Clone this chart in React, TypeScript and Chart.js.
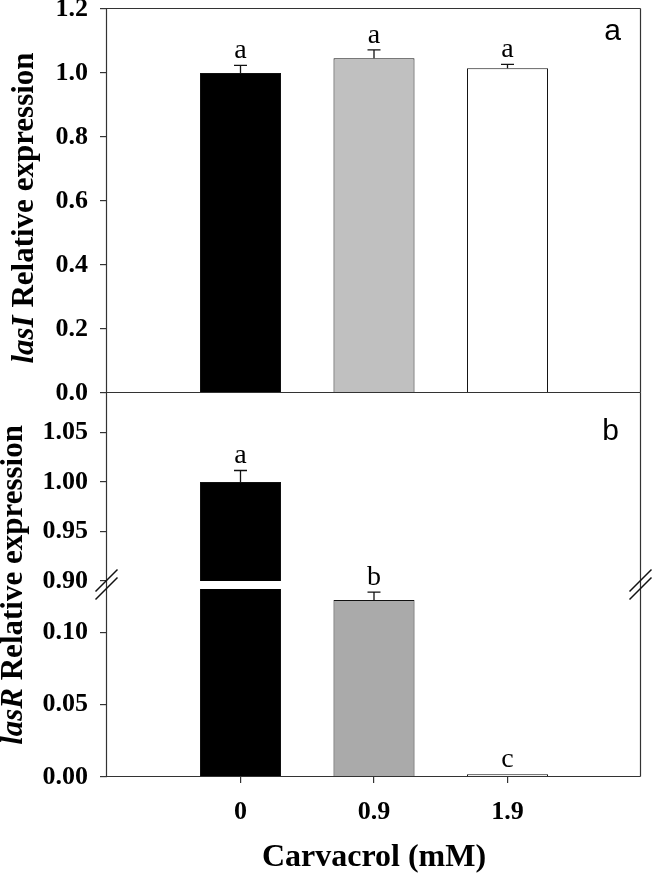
import React, { useEffect, useRef } from "react";
import { Chart, registerables } from "chart.js";

Chart.register(...registerables);

const W = 653;
const H = 874;
const SERIF = "'Liberation Serif', 'Times New Roman', serif";
const SANS = "'Liberation Sans', Arial, sans-serif";

// ---- data ----
const categories = ["0", "0.9", "1.9"];
const categoryPositions = [1, 2, 3];

const lasIValues = [1.0, 1.046, 1.015];
const lasIErrors = [0.024, 0.026, 0.012];
const lasILetters = ["a", "a", "a"];
const lasIColors = ["#000000", "#c0c0c0", "#ffffff"];
const lasITicks = [0, 0.2, 0.4, 0.6, 0.8, 1.0, 1.2];
const lasIRange = [0, 1.2];

const lasRValues = [1.0, 0.1224, 0.0019];
const lasRErrors = [0.0117, 0.0054, 0.0];
const lasRLetters = ["a", "b", "c"];
const lasRColors = ["#000000", "#aaaaaa", "#ffffff"];
const lasRUpperTicks = [0.9, 0.95, 1.0, 1.05];
const lasRUpperRange = [0.9, 1.09];
const lasRLowerTicks = [0, 0.05, 0.1];
const lasRLowerRange = [0, 0.13];

type PanelSpec = {
  values: number[];
  errors: number[];
  letters: string[];
  colors: string[];
  range: number[];
  ticks: number[];
  decimals: number;
  padTop: number;
  padBottom: number;
  showX: boolean;
  frameTop?: boolean;
  frameBottom?: boolean;
  breakAbove?: boolean;
  panelLabel?: { text: string; dx: number; dy: number };
  yTitle?: { italic: string; rest: string; x: number; cy: number };
};

const GAP = 8;

function buildChart(canvas: HTMLCanvasElement, p: PanelSpec) {
  const errorPlugin = {
    id: "errorLetters",
    afterDatasetsDraw(chart: any) {
      const ctx = chart.ctx;
      const ys = chart.scales.y;
      const meta = chart.getDatasetMeta(0);
      ctx.save();
      meta.data.forEach((bar: any, i: number) => {
        const v = p.values[i];
        if (v < ys.min || v > ys.max) return;
        const yTop = ys.getPixelForValue(v);
        const yErr = ys.getPixelForValue(v + p.errors[i]);
        const x = bar.x;
        if (p.errors[i] > 0) {
          ctx.strokeStyle = "#111";
          ctx.lineWidth = 1.3;
          ctx.beginPath();
          ctx.moveTo(x, yTop);
          ctx.lineTo(x, yErr);
          ctx.moveTo(x - 6.5, yErr);
          ctx.lineTo(x + 6.5, yErr);
          ctx.stroke();
        }
        ctx.fillStyle = "#000";
        ctx.font = `28px ${SERIF}`;
        ctx.textAlign = "center";
        ctx.textBaseline = "alphabetic";
        ctx.fillText(p.letters[i], x, yErr - 7);
      });
      ctx.restore();
    },
  };

  const framePlugin = {
    id: "frameText",
    afterDraw(chart: any) {
      const ctx = chart.ctx;
      const { left, right, top, bottom } = chart.chartArea;
      const L = Math.round(left) - 0.5;
      const R = Math.round(right) - 0.5;
      const T = Math.round(top) - 0.5;
      const B = Math.round(bottom) - 0.5;
      ctx.save();
      ctx.strokeStyle = "#333";
      ctx.lineWidth = 1.2;
      ctx.beginPath();
      ctx.moveTo(L, T);
      ctx.lineTo(L, B);
      ctx.moveTo(R, T);
      ctx.lineTo(R, B);
      if (p.frameTop) {
        ctx.moveTo(L, T);
        ctx.lineTo(R, T);
      }
      if (p.frameBottom) {
        ctx.moveTo(L, B);
        ctx.lineTo(R, B);
      }
      if (p.breakAbove) {
        ctx.moveTo(L, T - GAP);
        ctx.lineTo(L, T);
        ctx.moveTo(R, T - GAP);
        ctx.lineTo(R, T);
      }
      ctx.stroke();
      if (p.breakAbove) {
        ctx.strokeStyle = "#111";
        ctx.lineWidth = 1.5;
        ctx.beginPath();
        [L, R].forEach((x) => {
          [T, T - GAP].forEach((y) => {
            ctx.moveTo(x - 11, y + 11);
            ctx.lineTo(x + 11, y - 11);
          });
        });
        ctx.stroke();
      }
      if (p.panelLabel) {
        ctx.fillStyle = "#000";
        ctx.font = `30px ${SANS}`;
        ctx.textAlign = "right";
        ctx.textBaseline = "alphabetic";
        ctx.fillText(p.panelLabel.text, right - p.panelLabel.dx, top + p.panelLabel.dy);
      }
      if (p.yTitle) {
        const t = p.yTitle;
        const fI = `italic bold 31px ${SERIF}`;
        const fB = `bold 31px ${SERIF}`;
        ctx.translate(t.x, t.cy);
        ctx.rotate(-Math.PI / 2);
        ctx.font = fI;
        const w1 = ctx.measureText(t.italic).width;
        ctx.font = fB;
        const w2 = ctx.measureText(t.rest).width;
        const sx = -(w1 + w2) / 2;
        ctx.fillStyle = "#000";
        ctx.textAlign = "left";
        ctx.textBaseline = "alphabetic";
        ctx.font = fI;
        ctx.fillText(t.italic, sx, 0);
        ctx.font = fB;
        ctx.fillText(t.rest, sx + w1, 0);
      }
      ctx.restore();
    },
  };

  return new Chart(canvas, {
    type: "bar",
    data: {
      datasets: [
        {
          data: p.values.map((v, i) => ({ x: categoryPositions[i], y: v })),
          backgroundColor: p.colors,
          borderColor: "#111",
          borderWidth: 1,
          barPercentage: 0.607,
          categoryPercentage: 1,
          clip: 0,
        } as any,
      ],
    },
    options: {
      animation: false,
      responsive: false,
      maintainAspectRatio: false,
      layout: { padding: { left: 0, right: W - 641, top: p.padTop, bottom: p.padBottom } },
      plugins: { legend: { display: false }, tooltip: { enabled: false } },
      scales: {
        x: {
          type: "linear",
          display: p.showX,
          min: 0,
          max: 4,
          bounds: "data",
          offset: false,
          afterBuildTicks: (s: any) => {
            s.ticks = categoryPositions.map((v) => ({ value: v }));
          },
          afterFit: (s: any) => {
            if (p.showX) s.height = 97;
            s.paddingLeft = 0;
            s.paddingRight = 0;
          },
          ticks: {
            autoSkip: false,
            maxRotation: 0,
            padding: 14,
            color: "#000",
            font: { family: SERIF, size: 26, weight: "bold" },
            callback: (v: any) => {
              const idx = categoryPositions.indexOf(Number(v));
              return idx >= 0 ? categories[idx] : "";
            },
          },
          grid: {
            offset: false,
            drawOnChartArea: false,
            drawTicks: true,
            tickLength: 6,
            color: "#333",
            lineWidth: 1.2,
          },
          border: { display: false },
          title: {
            display: true,
            text: "Carvacrol (mM)",
            color: "#000",
            font: { family: SERIF, size: 32, weight: "bold", lineHeight: 1 },
            padding: { top: 0, bottom: 0 },
          },
        } as any,
        y: {
          type: "linear",
          min: p.range[0],
          max: p.range[1],
          bounds: "data",
          afterBuildTicks: (s: any) => {
            s.ticks = p.ticks.map((v) => ({ value: v }));
          },
          afterFit: (s: any) => {
            s.width = 107;
            s.paddingTop = 0;
            s.paddingBottom = 0;
          },
          ticks: {
            padding: 12,
            color: "#000",
            font: { family: SERIF, size: 26, weight: "bold" },
            callback: (v: any) => Number(v).toFixed(p.decimals),
          },
          grid: { drawOnChartArea: false, drawTicks: true, tickLength: 7, color: "#333", lineWidth: 1.2 },
          border: { display: false },
        } as any,
      },
    },
    plugins: [errorPlugin, framePlugin],
  });
}

const panelA: PanelSpec = {
  values: lasIValues,
  errors: lasIErrors,
  letters: lasILetters,
  colors: lasIColors,
  range: lasIRange,
  ticks: lasITicks,
  decimals: 1,
  padTop: 9,
  padBottom: H - 393,
  showX: false,
  frameTop: true,
  frameBottom: true,
  panelLabel: { text: "a", dx: 20, dy: 31 },
  yTitle: { italic: "lasI", rest: " Relative expression", x: 33, cy: 208 },
};

const panelBUpper: PanelSpec = {
  values: lasRValues,
  errors: lasRErrors,
  letters: lasRLetters,
  colors: lasRColors,
  range: lasRUpperRange,
  ticks: lasRUpperTicks,
  decimals: 2,
  padTop: 393,
  padBottom: H - 581,
  showX: false,
  panelLabel: { text: "b", dx: 22, dy: 47 },
};

const panelBLower: PanelSpec = {
  values: lasRValues,
  errors: lasRErrors,
  letters: lasRLetters,
  colors: lasRColors,
  range: lasRLowerRange,
  ticks: lasRLowerTicks,
  decimals: 2,
  padTop: 589,
  padBottom: 0,
  showX: true,
  frameBottom: true,
  breakAbove: true,
  yTitle: { italic: "lasR", rest: " Relative expression", x: 22, cy: 585 },
};

export default function App() {
  const refA = useRef<HTMLCanvasElement>(null);
  const refB1 = useRef<HTMLCanvasElement>(null);
  const refB2 = useRef<HTMLCanvasElement>(null);

  useEffect(() => {
    const charts = [
      buildChart(refA.current!, panelA),
      buildChart(refB1.current!, panelBUpper),
      buildChart(refB2.current!, panelBLower),
    ];
    return () => charts.forEach((c) => c.destroy());
  }, []);

  const cs: React.CSSProperties = { position: "absolute", left: 0, top: 0, width: W, height: H };
  return (
    <div style={{ position: "absolute", left: 0, top: 0, width: W, height: H, background: "#fff", overflow: "hidden" }}>
      <canvas ref={refA} width={W} height={H} style={cs} />
      <canvas ref={refB1} width={W} height={H} style={cs} />
      <canvas ref={refB2} width={W} height={H} style={cs} />
    </div>
  );
}
